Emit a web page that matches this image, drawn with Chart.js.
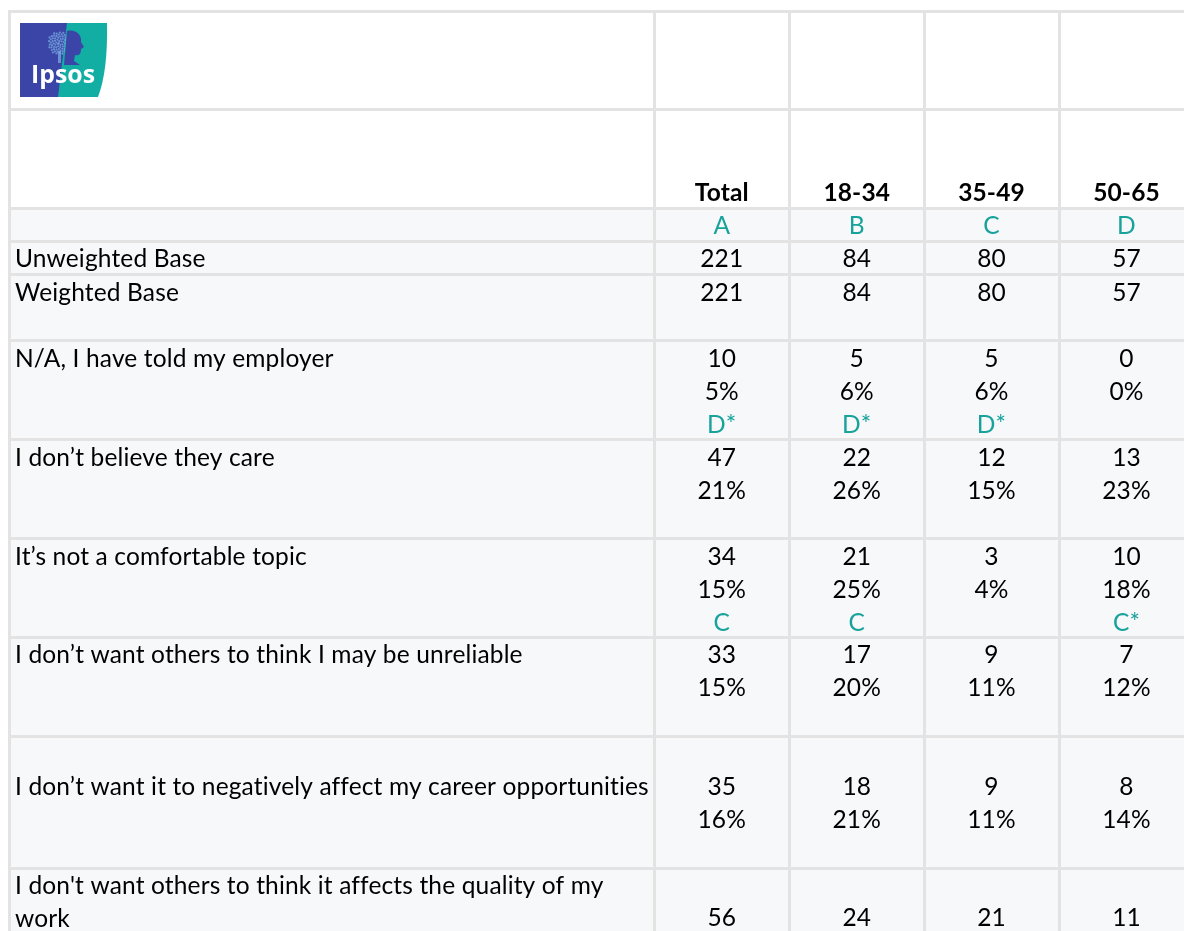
<!DOCTYPE html>
<html>
<head>
<meta charset="utf-8">
<script src="https://cdn.jsdelivr.net/npm/chart.js@4/dist/chart.umd.min.js"></script>
<style>
html,body{margin:0;padding:0;background:#fff;overflow:hidden;}
canvas{display:block;}
</style>
</head>
<body>
<canvas id="c" width="1184" height="931"></canvas>
<script>
// ---------- DATA ----------
const columns = ['Total', '18-34', '35-49', '50-65'];
const columnLetters = ['A', 'B', 'C', 'D'];
const baseLabels = ['Unweighted Base', 'Weighted Base'];
const unweightedBase = [221, 84, 80, 57];
const weightedBase = [221, 84, 80, 57];
const categories = [
  'N/A, I have told my employer',
  'I don’t believe they care',
  'It’s not a comfortable topic',
  'I don’t want others to think I may be unreliable',
  'I don’t want it to negatively affect my career opportunities',
  ["I don't want others to think it affects the quality of my", 'work']
];
const countTotal = [10, 47, 34, 33, 35, 56];
const count1834  = [5, 22, 21, 17, 18, 24];
const count3549  = [5, 12, 3, 9, 9, 21];
const count5065  = [0, 13, 10, 7, 8, 11];
const pctTotal = [5, 21, 15, 15, 16, null];
const pct1834  = [6, 26, 25, 20, 21, null];
const pct3549  = [6, 15, 4, 11, 11, null];
const pct5065  = [0, 23, 18, 12, 14, null];
const sigTotal = ['D*', '', 'C', '', '', ''];
const sig1834  = ['D*', '', 'C', '', '', ''];
const sig3549  = ['D*', '', '', '', '', ''];
const sig5065  = ['', '', 'C*', '', '', ''];

const counts = [countTotal, count1834, count3549, count5065];
const pcts = [pctTotal, pct1834, pct3549, pct5065];
const sigs = [sigTotal, sig1834, sig3549, sig5065];

// ---------- LAYOUT / STYLE ----------
const colEdges = [9.5, 654, 789.5, 924, 1059, 1194];
const rowEdges = [11, 109, 208, 241, 274.5, 340.5, 439.5, 538.5, 637, 736, 868, 1000];
const labelOffsets = [26, 26, 26, 26, 59, 26];
const valueOffsets = [26, 26, 26, 26, 59, 58];
const LINE = 33;
const FONT = 'Lato, "Open Sans", sans-serif';
const FSIZE = 24.5;
const TEXT = '#000000';
const TEAL = '#17a39b';
const GRID = '#e3e3e3';
const SHADE = '#f7f8fa';

function drawLogo(ctx, x, y) {
  const w = 87, h = 74;
  ctx.save();
  ctx.fillStyle = '#12aea4';
  ctx.beginPath();
  ctx.moveTo(x + 44, y);
  ctx.lineTo(x + w, y);
  ctx.quadraticCurveTo(x + w + 1, y + 48, x + 78, y + h);
  ctx.lineTo(x + 36, y + h);
  ctx.closePath();
  ctx.fill();
  ctx.fillStyle = '#3b45a7';
  ctx.beginPath();
  ctx.moveTo(x, y);
  ctx.lineTo(x + 47, y);
  ctx.lineTo(x + 38, y + h);
  ctx.lineTo(x, y + h);
  ctx.closePath();
  ctx.fill();
  // tree crown (speckled)
  ctx.fillStyle = 'rgba(120,170,225,0.75)';
  for (let i = 0; i < 70; i++) {
    const a = i * 2.399, r = Math.sqrt(i / 70) * 11;
    ctx.beginPath();
    ctx.arc(x + 39 + Math.cos(a) * r, y + 20 + Math.sin(a) * r * 1.05, 1.1, 0, Math.PI * 2);
    ctx.fill();
  }
  ctx.fillRect(x + 38, y + 28, 3, 12);
  // head profile
  ctx.fillStyle = '#3b45a7';
  ctx.beginPath();
  ctx.moveTo(x + 47, y + 8);
  ctx.bezierCurveTo(x + 56, y + 6, x + 62, y + 12, x + 61, y + 19);
  ctx.lineTo(x + 64, y + 24);
  ctx.lineTo(x + 61, y + 26);
  ctx.bezierCurveTo(x + 61, y + 32, x + 58, y + 33, x + 55, y + 32);
  ctx.lineTo(x + 54, y + 38);
  ctx.lineTo(x + 60, y + 42);
  ctx.lineTo(x + 44, y + 42);
  ctx.closePath();
  ctx.fill();
  // wordmark
  ctx.fillStyle = '#ffffff';
  let fs = 22;
  ctx.font = 'bold ' + fs + 'px "Open Sans", sans-serif';
  const m = ctx.measureText('Ipsos').width;
  fs = fs * 64 / m;
  ctx.font = 'bold ' + fs.toFixed(2) + 'px "Open Sans", sans-serif';
  ctx.textAlign = 'left';
  ctx.textBaseline = 'alphabetic';
  ctx.fillText('Ipsos', x + 11, y + 60);
  ctx.restore();
}

const tablePlugin = {
  id: 'tablePlugin',
  beforeDraw(chart) {
    const ctx = chart.ctx, xs = chart.scales.x, ys = chart.scales.y;
    ctx.save();
    ctx.fillStyle = '#ffffff';
    ctx.fillRect(0, 0, chart.width, chart.height);
    ctx.fillStyle = SHADE;
    const x0 = xs.getPixelForValue(colEdges[0]);
    const y0 = ys.getPixelForValue(rowEdges[2]);
    ctx.fillRect(x0, y0, chart.width - x0, chart.height - y0);
    ctx.restore();
  },
  afterDraw(chart) {
    const ctx = chart.ctx, xs = chart.scales.x, ys = chart.scales.y;
    const px = v => xs.getPixelForValue(v);
    const py = v => ys.getPixelForValue(v);
    const colCenter = i => (px(colEdges[i + 1]) + px(colEdges[i + 2])) / 2;
    const labelX = px(colEdges[0]) + 5.5;
    function put(str, x, y, align, color, bold) {
      ctx.font = (bold ? 'bold ' : '') + FSIZE + 'px ' + FONT;
      if ('letterSpacing' in ctx) ctx.letterSpacing = '0.15px';
      ctx.fillStyle = color;
      ctx.textAlign = align;
      ctx.textBaseline = 'alphabetic';
      ctx.fillText(str, x, y);
    }
    ctx.save();
    drawLogo(ctx, px(colEdges[0]) + 10.5, py(rowEdges[0]) + 12);
    // header
    columns.forEach((c, i) => put(c, colCenter(i), py(rowEdges[2]) - 7, 'center', TEXT, true));
    columnLetters.forEach((c, i) => put(c, colCenter(i), py(rowEdges[2]) + 26, 'center', TEAL, false));
    // bases
    put(baseLabels[0], labelX, py(rowEdges[3]) + 26, 'left', TEXT, false);
    unweightedBase.forEach((v, i) => put(String(v), colCenter(i), py(rowEdges[3]) + 26, 'center', TEXT, false));
    put(baseLabels[1], labelX, py(rowEdges[4]) + 26, 'left', TEXT, false);
    weightedBase.forEach((v, i) => put(String(v), colCenter(i), py(rowEdges[4]) + 26, 'center', TEXT, false));
    // categories
    categories.forEach((lab, r) => {
      const top = py(rowEdges[5 + r]);
      const lines = Array.isArray(lab) ? lab : [lab];
      lines.forEach((l, k) => put(l, labelX, top + labelOffsets[r] + k * LINE, 'left', TEXT, false));
      for (let c = 0; c < columns.length; c++) {
        let yb = top + valueOffsets[r];
        put(String(counts[c][r]), colCenter(c), yb, 'center', TEXT, false);
        if (pcts[c][r] !== null) {
          yb += LINE;
          put(pcts[c][r] + '%', colCenter(c), yb, 'center', TEXT, false);
        }
        if (sigs[c][r]) {
          yb += LINE;
          put(sigs[c][r], colCenter(c), yb, 'center', TEAL, false);
        }
      }
    });
    ctx.restore();
  }
};

new Chart(document.getElementById('c'), {
  type: 'scatter',
  data: { datasets: [] },
  plugins: [tablePlugin],
  options: {
    responsive: false,
    animation: false,
    events: [],
    layout: { padding: { left: 8, top: 10, right: 0, bottom: 0 } },
    plugins: { legend: { display: false }, tooltip: { enabled: false }, title: { display: false } },
    scales: {
      x: {
        type: 'linear', min: 8, max: 1184, offset: false,
        border: { display: false },
        ticks: { display: false, padding: 0 },
        grid: { color: GRID, lineWidth: 3, drawTicks: false },
        afterBuildTicks: s => { s.ticks = colEdges.filter(v => v <= 1184).map(v => ({ value: v })); }
      },
      y: {
        type: 'linear', reverse: true, min: 10, max: 931, offset: false,
        border: { display: false },
        ticks: { display: false, padding: 0 },
        grid: { color: GRID, lineWidth: 3, drawTicks: false },
        afterBuildTicks: s => { s.ticks = rowEdges.filter(v => v <= 931).map(v => ({ value: v })); }
      }
    }
  }
});
</script>
</body>
</html>
